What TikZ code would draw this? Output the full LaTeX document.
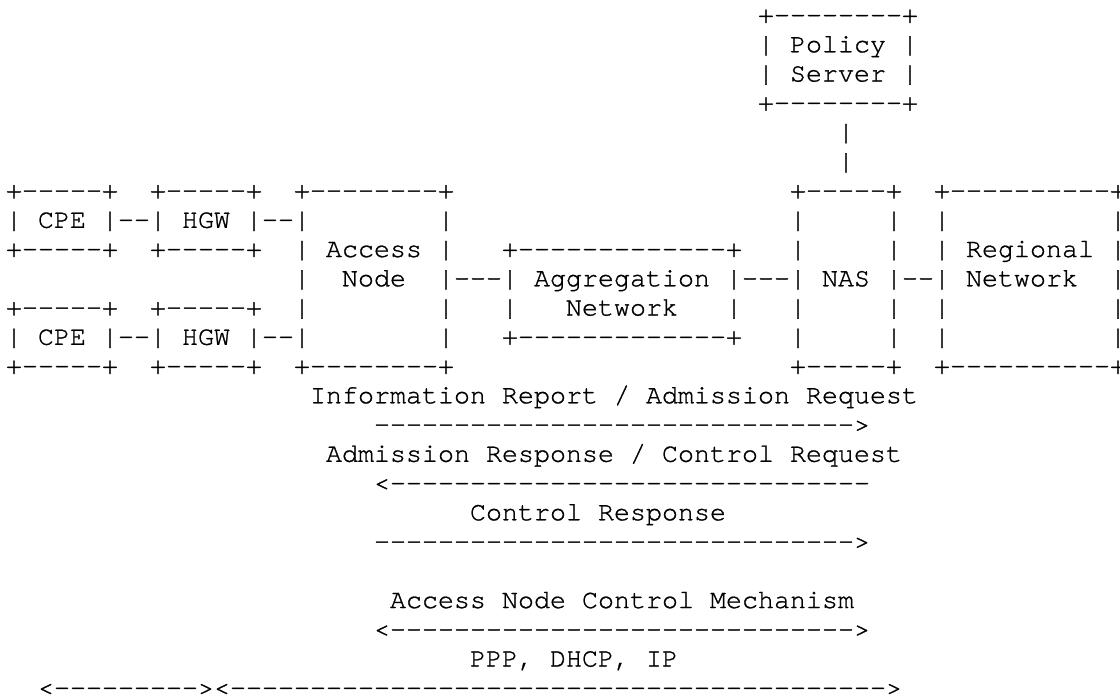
\documentclass[tikz,border=0pt]{standalone}
\usepackage{fontspec}
\setmonofont[FakeBold=1]{texgyrecursor-regular.otf}
\tikzset{asc/.style={anchor=base west,inner sep=0pt,outer sep=0pt,font=\ttfamily\fontsize{26.667pt}{29.25pt}\selectfont,text=black}}
\newcommand\seg[4]{\node[asc] (#1) at ({6+16*#2},{-23-29.25*#3}) {#4};}
\begin{document}
\begin{tikzpicture}[x=1pt,y=1pt]
\useasboundingbox[fill=white] (0,0) rectangle (1120,-696);
% Policy server
\seg{ps0}{47}{0}{+--------+}
\seg{ps1}{47}{1}{|~Policy~|}
\seg{ps2}{47}{2}{|~Server~|}
\seg{ps3}{47}{3}{+--------+}
\seg{pl4}{52}{4}{|}
\seg{pl5}{52}{5}{|}
% row 6
\seg{a6}{0}{6}{+-----+}
\seg{b6}{9}{6}{+-----+}
\seg{c6}{18}{6}{+--------+}
\seg{d6}{49}{6}{+-----+}
\seg{e6}{58}{6}{+----------+}
% row 7
\seg{a7}{0}{7}{|~CPE~|--|~HGW~|--|}
\seg{c7}{27}{7}{|}
\seg{d7}{49}{7}{|}
\seg{d7b}{55}{7}{|}
\seg{e7}{58}{7}{|}
\seg{e7b}{69}{7}{|}
% row 8
\seg{a8}{0}{8}{+-----+}
\seg{b8}{9}{8}{+-----+}
\seg{c8}{18}{8}{|~Access~|}
\seg{f8}{31}{8}{+-------------+}
\seg{d8}{49}{8}{|}
\seg{d8b}{55}{8}{|}
\seg{e8}{58}{8}{|~Regional~|}
% row 9
\seg{c9}{18}{9}{|~~Node~~|---|~Aggregation~|---|~NAS~|--|~Network~~|}
% row 10
\seg{a10}{0}{10}{+-----+}
\seg{b10}{9}{10}{+-----+}
\seg{c10}{18}{10}{|}
\seg{c10b}{27}{10}{|}
\seg{f10}{31}{10}{|~~~Network~~~|}
\seg{d10}{49}{10}{|}
\seg{d10b}{55}{10}{|}
\seg{e10}{58}{10}{|}
\seg{e10b}{69}{10}{|}
% row 11
\seg{a11}{0}{11}{|~CPE~|--|~HGW~|--|}
\seg{c11}{27}{11}{|}
\seg{f11}{31}{11}{+-------------+}
\seg{d11}{49}{11}{|}
\seg{d11b}{55}{11}{|}
\seg{e11}{58}{11}{|}
\seg{e11b}{69}{11}{|}
% row 12
\seg{a12}{0}{12}{+-----+}
\seg{b12}{9}{12}{+-----+}
\seg{c12}{18}{12}{+--------+}
\seg{d12}{49}{12}{+-----+}
\seg{e12}{58}{12}{+----------+}
% messages
\seg{m13}{19}{13}{Information~Report~/~Admission~Request}
\seg{m14}{23}{14}{------------------------------>}
\seg{m15}{20}{15}{Admission~Response~/~Control~Request}
\seg{m16}{23}{16}{<------------------------------}
\seg{m17}{29}{17}{Control~Response}
\seg{m18}{23}{18}{------------------------------>}
\seg{m20}{24}{20}{Access~Node~Control~Mechanism}
\seg{m21}{23}{21}{<----------------------------->}
\seg{m22}{29}{22}{PPP,~DHCP,~IP}
\seg{m23a}{2}{23}{<--------->}
\seg{m23b}{13}{23}{<----------------------------------------->}
\end{tikzpicture}
\end{document}
